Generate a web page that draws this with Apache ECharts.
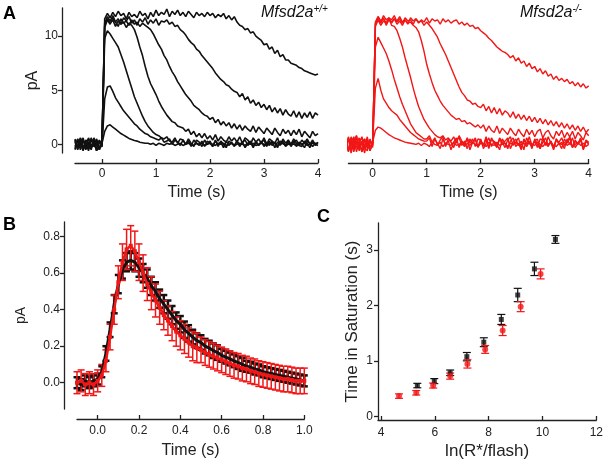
<!DOCTYPE html>
<html><head><meta charset="utf-8">
<script src="https://cdn.jsdelivr.net/npm/echarts@6/dist/echarts.min.js"></script>
<style>html,body{margin:0;padding:0;background:#fff}#c{width:606px;height:462px}</style>
</head><body><div id="c"></div>
<script>
// ---- Panel A: time base (s)
var tA = [
-0.5,-0.45,-0.4,-0.35,-0.3,-0.25,-0.2,-0.15,-0.1,-0.05,
0,0.05,0.1,0.15,0.2,0.25,0.3,0.35,0.4,0.45,
0.5,0.55,0.6,0.65,0.7,0.75,0.8,0.85,0.9,0.95,
1,1.05,1.1,1.15,1.2,1.25,1.3,1.35,1.4,1.45,
1.5,1.55,1.6,1.65,1.7,1.75,1.8,1.85,1.9,1.95,
2,2.05,2.1,2.15,2.2,2.25,2.3,2.35,2.4,2.45,
2.5,2.55,2.6,2.65,2.7,2.75,2.8,2.85,2.9,2.95,
3,3.05,3.1,3.15,3.2,3.25,3.3,3.35,3.4,3.45,
3.5,3.55,3.6,3.65,3.7,3.75,3.8,3.85,3.9,3.95,
4];
// ---- Panel A left (Mfsd2a+/+), pA
var blk1 = [
0.4,-0.5,0.6,-0.3,0.2,-0.6,0.5,-0.2,0.3,-0.5,
0.1,1.2,1.7,1.8,1.6,1.4,1.2,1.0,0.85,0.7,
0.55,0.45,0.35,0.3,0.2,0.15,0.1,0.1,0.0,0.1,
-0.1,0.1,0.0,-0.1,0.1,0.0,0.1,-0.1,0.0,0.1,
-0.1,0.0,0.1,0.0,-0.1,0.1,0.0,0.1,-0.1,0.0,
0.1,0.0,-0.1,0.1,0.0,0.1,-0.1,0.0,0.1,-0.1,
0.0,0.1,0.0,-0.1,0.1,0.0,0.1,-0.1,0.0,0.1,
0.0,-0.1,0.1,0.0,0.1,-0.1,0.0,0.1,-0.1,0.0,
0.1,0.0,-0.1,0.1,0.0,0.1,-0.1,0.0,0.1,0.0,
-0.1];
var blk2 = [
-0.4,0.5,-0.2,0.6,-0.5,0.2,-0.3,0.5,-0.6,0.3,
-0.1,4.2,5.3,5.4,4.9,4.3,3.9,3.5,3.1,2.8,
2.5,2.2,1.9,1.7,1.4,1.2,1.0,0.9,0.7,0.6,
0.5,0.4,0.6,0.2,0.3,0.5,0.0,0.4,0.2,-0.1,
0.4,0.0,0.3,-0.2,0.4,0.1,-0.1,0.3,-0.2,0.3,
0.1,-0.2,0.3,0.0,0.2,-0.3,0.3,-0.1,0.2,-0.2,
0.3,-0.1,0.2,-0.3,0.1,0.3,-0.2,0.2,-0.1,0.3,
-0.2,0.2,-0.1,0.3,-0.3,0.2,0.0,0.3,-0.2,0.1,
-0.1,0.3,-0.2,0.2,0.0,-0.3,0.3,0.1,-0.2,0.1,
0.1];
var blk3 = [
0.5,-0.3,0.2,-0.6,0.4,0.0,-0.5,0.6,-0.2,0.4,
-0.2,9.8,10.5,10.2,9.8,9.4,9.0,8.3,7.6,6.8,
6.0,5.2,4.4,3.8,3.2,2.6,2.1,1.7,1.4,1.1,
0.9,0.8,0.6,0.5,0.7,0.3,0.2,0.6,0.1,0.5,
0.4,0.0,0.5,0.1,-0.2,0.4,0.2,-0.2,0.4,0.0,
0.3,-0.2,0.4,-0.2,0.3,0.0,-0.3,0.3,0.1,-0.1,
0.3,-0.2,0.2,0.4,-0.1,0.2,-0.3,0.3,-0.1,0.2,
0.4,-0.2,0.3,-0.1,0.2,-0.3,0.3,0.1,-0.1,0.3,
-0.2,0.2,0.4,-0.1,-0.2,0.3,0.1,-0.3,0.3,0.0,
0.1];
var blk4 = [
-0.2,0.5,-0.5,0.3,0.0,-0.4,0.6,-0.2,0.2,-0.5,
0.2,11.0,11.6,11.2,11.5,10.9,11.4,11.1,11.3,10.8,
11.2,11.0,10.6,9.9,9.0,8.2,7.2,6.3,5.6,5.1,
4.6,4.0,3.5,3.1,2.7,2.4,2.1,2.0,1.7,1.6,
1.5,1.2,1.4,0.9,1.2,0.7,1.0,0.6,1.0,0.5,
0.8,0.4,0.9,0.3,0.7,0.4,0.2,0.7,0.3,0.6,
0.2,0.7,0.1,0.6,0.4,0.0,0.6,0.2,0.5,0.1,
0.6,0.0,0.5,0.3,0.1,0.6,-0.1,0.5,0.1,0.4,
0.0,0.5,0.1,-0.1,0.4,0.1,0.5,0.0,0.4,-0.1,
0.2];
var blk5 = [
0.2,-0.4,0.6,-0.5,0.2,0.5,-0.3,0.0,0.5,-0.2,
-0.2,10.8,11.5,11.1,11.7,11.3,10.9,11.6,11.2,11.4,
11.0,11.5,11.1,11.3,10.9,11.2,11.0,10.8,10.6,10.2,
9.7,9.2,8.8,8.2,7.8,7.2,6.7,6.3,5.8,5.4,
5.0,4.6,4.3,4.0,3.6,3.4,3.2,2.9,2.7,2.6,
2.3,2.5,2.0,2.3,1.8,2.1,1.7,2.0,1.5,1.9,
1.4,1.8,1.3,1.7,1.4,1.2,1.7,1.1,1.6,1.3,
1.0,1.5,1.2,0.9,1.5,1.1,0.8,1.4,1.0,1.3,
0.8,1.3,0.9,1.4,0.7,1.2,0.9,0.6,1.2,0.8,
1.0];
var blk6 = [
-0.5,0.3,0.0,0.5,-0.4,0.6,-0.2,0.3,-0.6,0.2,
0.3,11.2,11.8,11.4,11.9,11.3,11.6,11.1,11.7,11.4,
11.8,11.2,11.5,11.0,11.6,11.3,11.7,11.1,11.5,11.2,
11.6,11.0,11.4,11.3,11.5,11.1,11.3,10.9,11.0,10.6,
10.4,10.1,9.7,9.4,9.2,8.8,8.6,8.2,7.9,7.6,
7.3,7.0,6.6,6.3,6.0,5.8,5.5,5.4,5.1,4.9,
4.8,4.4,4.7,4.1,4.4,3.8,4.1,3.6,3.9,3.4,
3.7,3.2,3.6,3.0,3.4,2.9,3.3,2.7,3.2,2.8,
2.6,3.1,2.5,3.0,2.4,2.9,2.5,3.0,2.4,2.9,
2.7];
var blk7 = [
0.3,-0.2,0.5,-0.5,0.2,-0.4,0.5,0.0,-0.5,0.3,
0.0,11.6,12.1,11.7,12.2,11.8,12.3,11.9,12.1,11.6,
12.2,11.8,12.0,11.7,12.3,11.9,12.1,11.6,12.2,11.8,
12.4,11.9,12.2,12.0,12.5,11.8,12.3,12.0,12.4,11.9,
12.2,11.8,12.3,12.0,11.7,12.2,11.9,12.1,11.8,12.2,
11.9,12.1,11.7,12.0,11.8,12.1,11.6,11.9,11.5,11.8,
11.3,11.0,10.9,10.6,10.7,10.3,10.4,10.0,9.8,9.6,
9.2,9.3,8.8,9.0,8.4,8.7,8.1,8.3,7.8,7.8,
7.5,7.4,7.3,7.1,7.0,6.8,6.7,6.6,6.5,6.4,
6.5];
// ---- Panel A right (Mfsd2a-/-), pA
var red1 = [
0.6,-0.7,0.3,-0.5,0.8,-0.3,0.2,-0.8,0.5,-0.2,
0.2,1.3,1.6,1.5,1.3,1.1,0.9,0.75,0.6,0.5,
0.4,0.3,0.2,0.15,0.1,0.05,0.0,0.1,-0.1,0.1,
0.0,-0.2,0.2,0.0,-0.1,0.2,-0.2,0.1,0.0,-0.1,
0.2,-0.1,0.0,0.2,-0.2,0.1,-0.1,0.2,0.0,-0.2,
0.1,0.0,-0.2,0.2,0.0,-0.1,0.2,-0.1,0.0,0.1,
-0.2,0.1,0.0,0.2,-0.1,0.0,0.1,-0.2,0.2,0.0,
-0.1,0.2,0.0,-0.2,0.1,0.0,0.2,-0.1,-0.2,0.1,
0.0,0.2,-0.1,0.1,-0.2,0.0,0.2,-0.1,0.1,-0.2,
0.0];
var red2 = [
-0.5,0.7,-0.2,0.5,-0.7,0.3,0.6,-0.4,0.2,-0.6,
0.3,5.2,6.1,5.0,4.2,3.8,3.4,3.1,2.9,2.7,
2.3,2.0,1.7,1.4,1.1,0.9,0.7,0.5,0.4,0.3,
0.3,0.6,-0.2,0.5,0.1,-0.4,0.5,0.0,0.3,-0.5,
0.2,0.6,-0.3,0.3,0.0,0.5,-0.5,0.2,0.4,-0.2,
0.5,-0.4,0.1,0.6,-0.2,0.3,0.0,-0.5,0.5,0.1,
-0.4,0.3,0.6,-0.2,0.1,-0.5,0.5,0.0,0.3,-0.4,
0.5,0.0,-0.4,0.6,0.1,-0.2,0.3,-0.5,0.5,0.0,
0.2,-0.4,0.5,0.0,0.6,-0.3,0.1,0.4,-0.5,0.3,
0.0];
var red3 = [
0.3,-0.6,0.7,-0.3,0.0,0.6,-0.7,0.5,-0.2,0.4,
-0.3,9.0,9.9,9.4,8.9,8.4,7.7,6.9,6.0,5.2,
4.4,3.7,3.1,2.5,1.9,1.5,1.1,0.9,0.7,0.5,
0.5,0.8,0.2,0.6,-0.1,0.4,0.7,-0.2,0.5,0.2,
-0.3,0.5,0.6,-0.1,0.3,-0.4,0.5,0.1,0.6,-0.3,
0.3,-0.1,0.5,-0.4,0.6,0.1,-0.3,0.5,0.0,0.3,
0.6,-0.4,0.2,0.5,-0.1,0.3,-0.5,0.6,0.1,-0.2,
0.3,0.5,-0.4,0.2,0.6,-0.1,0.3,-0.3,0.5,0.1,
-0.4,0.5,0.1,0.6,-0.3,0.3,0.0,0.5,-0.4,0.3,
0.1];
var red4 = [
-0.3,0.5,-0.8,0.2,0.6,-0.5,0.3,-0.2,0.7,-0.6,
0.1,10.9,11.5,11.0,11.4,11.2,11.6,11.0,10.9,10.5,
9.8,9.0,8.0,7.1,6.2,5.2,4.3,3.5,2.9,2.3,
1.9,1.5,1.2,0.9,0.7,0.6,0.8,0.4,0.6,0.3,
0.7,0.1,0.8,0.3,-0.1,0.6,0.1,0.5,-0.2,0.5,
0.4,-0.1,0.7,-0.3,0.5,0.2,-0.2,0.6,0.2,-0.3,
0.4,0.7,-0.1,0.2,0.6,-0.4,0.4,0.0,0.7,-0.1,
0.3,-0.3,0.5,0.4,-0.1,0.7,0.1,-0.4,0.4,0.2,
0.6,-0.1,0.2,0.7,-0.3,0.4,0.0,0.6,-0.4,0.4,
0.2];
var red5 = [
0.5,-0.6,0.2,0.7,-0.3,0.1,-0.7,0.4,0.3,-0.5,
0.0,11.1,11.6,11.2,11.7,11.0,11.5,11.3,11.6,11.1,
11.4,11.0,11.5,11.2,11.3,11.0,10.8,10.4,9.6,8.6,
7.4,6.5,5.7,5.0,4.5,4.0,3.6,3.3,3.0,2.7,
2.5,2.3,2.4,2.1,2.2,1.9,2.0,1.8,1.6,1.8,
1.5,1.8,1.2,1.7,1.3,1.1,1.7,1.0,1.5,1.2,
0.9,1.5,1.1,0.8,1.4,1.0,0.7,1.4,0.9,1.3,
0.7,1.2,1.4,0.6,1.1,1.3,0.8,0.5,1.2,0.8,
1.3,0.6,1.1,0.7,1.2,0.5,1.1,0.8,0.4,1.1,
0.8];
var red6 = [
-0.2,0.6,-0.5,0.3,0.8,-0.6,0.2,0.5,-0.4,0.1,
0.2,11.3,11.8,11.4,11.6,11.2,11.7,11.5,11.9,11.3,
11.6,11.2,11.7,11.4,11.5,11.1,11.6,11.3,11.4,11.0,
11.3,11.0,10.7,10.3,9.9,9.3,8.8,8.3,7.7,7.1,
6.5,5.9,5.3,4.8,4.5,4.1,4.0,3.7,3.8,3.5,
3.4,3.7,3.1,3.5,2.9,3.4,2.8,3.3,2.7,3.1,
2.9,2.5,3.0,2.4,2.8,2.3,2.7,2.2,2.6,2.1,
2.5,2.0,2.4,1.9,2.3,1.8,2.2,1.7,2.1,1.6,
2.0,1.5,1.9,1.4,1.8,1.3,1.7,1.2,1.6,1.1,
1.4];
var red7 = [
0.2,-0.5,0.6,-0.7,0.3,0.0,0.7,-0.3,-0.6,0.5,
-0.1,11.2,11.8,11.3,11.9,11.5,11.7,11.2,11.6,11.4,
11.8,11.3,11.5,11.1,11.7,11.4,11.6,11.2,11.5,11.3,
11.7,11.2,11.6,11.4,11.5,11.1,11.6,11.3,11.5,11.2,
11.4,11.5,11.1,11.3,11.0,11.2,10.9,11.0,10.7,10.8,
10.5,10.3,10.1,9.8,9.6,9.3,9.0,8.8,8.6,8.5,
8.3,8.0,8.2,7.7,8.0,7.5,7.7,7.2,7.5,7.0,
7.2,6.7,7.0,6.5,6.8,6.3,6.5,6.0,6.3,5.9,
6.1,5.8,6.0,5.6,5.8,5.4,5.7,5.3,5.6,5.2,
5.4];
// ---- Panel B: mean dim-flash responses (pA) with SEM
var tB = [
-0.1,-0.08,-0.06,-0.04,-0.02,0,0.02,0.04,0.06,0.08,
0.1,0.12,0.14,0.16,0.18,0.2,0.22,0.24,0.26,0.28,
0.3,0.32,0.34,0.36,0.38,0.4,0.42,0.44,0.46,0.48,
0.5,0.52,0.54,0.56,0.58,0.6,0.62,0.64,0.66,0.68,
0.7,0.72,0.74,0.76,0.78,0.8,0.82,0.84,0.86,0.88,
0.9,0.92,0.94,0.96,0.98,1];
var bMeanK = [
0.00,-0.01,0.01,0.00,0.01,0.02,0.06,0.16,0.29,0.43,
0.54,0.62,0.66,0.67,0.66,0.63,0.60,0.57,0.53,0.50,
0.46,0.43,0.40,0.37,0.34,0.32,0.29,0.27,0.25,0.23,
0.22,0.20,0.19,0.175,0.165,0.15,0.14,0.13,0.12,0.11,
0.10,0.09,0.085,0.075,0.07,0.06,0.055,0.05,0.045,0.04,
0.035,0.03,0.025,0.02,0.015,0.01];
var bErrK = [
0.03,0.03,0.03,0.03,0.03,0.03,0.03,0.04,0.04,0.05,
0.05,0.05,0.05,0.05,0.05,0.05,0.05,0.05,0.05,0.05,
0.05,0.05,0.05,0.05,0.045,0.045,0.045,0.045,0.04,0.04,
0.04,0.04,0.04,0.04,0.04,0.035,0.035,0.035,0.035,0.035,
0.035,0.03,0.03,0.03,0.03,0.03,0.03,0.03,0.03,0.03,
0.03,0.03,0.03,0.03,0.03,0.03];
var bMeanR = [
0.00,0.01,-0.01,0.00,-0.01,0.01,0.04,0.12,0.25,0.40,
0.55,0.66,0.73,0.75,0.72,0.66,0.60,0.54,0.49,0.45,
0.41,0.37,0.34,0.31,0.28,0.26,0.24,0.22,0.20,0.19,
0.18,0.165,0.155,0.145,0.135,0.125,0.115,0.105,0.095,0.09,
0.08,0.075,0.065,0.06,0.05,0.045,0.04,0.035,0.03,0.025,
0.02,0.02,0.015,0.01,0.01,0.01];
var bErrR = [
0.06,0.06,0.06,0.06,0.06,0.06,0.06,0.06,0.07,0.08,
0.09,0.10,0.11,0.11,0.11,0.10,0.10,0.09,0.09,0.09,
0.09,0.08,0.08,0.08,0.08,0.08,0.08,0.08,0.08,0.08,
0.07,0.07,0.07,0.07,0.07,0.07,0.07,0.07,0.07,0.07,
0.07,0.07,0.07,0.07,0.07,0.07,0.07,0.07,0.07,0.07,
0.07,0.07,0.07,0.07,0.07,0.07];
// ---- Panel C: time in saturation vs ln(R*/flash)
var cXK = [5.35,5.98,6.57,7.19,7.82,8.47,9.08,9.70,10.48];
var cYK = [0.56,0.64,0.79,1.08,1.34,1.75,2.19,2.66,3.19];
var cEK = [0.04,0.045,0.05,0.075,0.08,0.09,0.12,0.12,0.07];
var cXR = [4.67,5.31,5.94,6.57,7.21,7.87,8.52,9.19,9.93];
var cYR = [0.37,0.43,0.56,0.73,0.95,1.21,1.55,1.98,2.57];
var cER = [0.04,0.04,0.045,0.055,0.075,0.07,0.09,0.09,0.09];

var FONT = '"Liberation Sans", Arial, Helvetica, sans-serif';
var AX = '#222';
var BLACK = '#111';
var RED = '#f21616';

function zip2(a, b) { var o = []; for (var i = 0; i < Math.min(a.length, b.length); i++) o.push([a[i], b[i]]); return o; }
function zip3(a, b, c) { var o = []; for (var i = 0; i < Math.min(a.length, b.length, c.length); i++) o.push([a[i], b[i], c[i]]); return o; }
function errBar(color, cap, lw) {
  return function (params, api) {
    var x = api.value(0), y = api.value(1), e = api.value(2);
    var p1 = api.coord([x, y + e]), p2 = api.coord([x, y - e]);
    var s = { stroke: color, lineWidth: lw };
    return { type: 'group', children: [
      { type: 'line', shape: { x1: p1[0], y1: p1[1], x2: p2[0], y2: p2[1] }, style: s },
      { type: 'line', shape: { x1: p1[0] - cap, y1: p1[1], x2: p1[0] + cap, y2: p1[1] }, style: s },
      { type: 'line', shape: { x1: p2[0] - cap, y1: p2[1], x2: p2[0] + cap, y2: p2[1] }, style: s }
    ]};
  };
}
function xAx(grid, min, max, ticks, opts) {
  var a = {
    type: 'value', gridIndex: grid, min: min, max: max,
    axisLine: { show: true, onZero: false, lineStyle: { color: AX, width: 1.3 } },
    axisTick: { show: true, inside: true, length: 4, customValues: ticks, lineStyle: { color: AX, width: 1.3 } },
    axisLabel: { customValues: ticks, color: AX, fontSize: 12, fontFamily: FONT, margin: 5 },
    splitLine: { show: false },
    nameLocation: 'middle', nameTextStyle: { color: AX, fontSize: 16, fontFamily: FONT }
  };
  for (var k in opts) a[k] = opts[k];
  return a;
}
function yAx(grid, min, max, ticks, opts) {
  var a = {
    type: 'value', gridIndex: grid, min: min, max: max,
    axisLine: { show: true, onZero: false, lineStyle: { color: AX, width: 1.3 } },
    axisTick: { show: true, inside: false, length: 4, customValues: ticks, lineStyle: { color: AX, width: 1.3 } },
    axisLabel: { customValues: ticks, color: AX, fontSize: 12, fontFamily: FONT, margin: 4 },
    splitLine: { show: false },
    nameLocation: 'middle', nameTextStyle: { color: AX, fontSize: 16, fontFamily: FONT }
  };
  for (var k in opts) a[k] = opts[k];
  return a;
}
var f1 = function (v) { return v.toFixed(1); };

var series = [];
[blk1, blk2, blk3, blk4, blk5, blk6, blk7].forEach(function (arr) {
  series.push({ type: 'line', xAxisIndex: 0, yAxisIndex: 0, data: zip2(tA, arr), showSymbol: false, silent: true,
    lineStyle: { color: BLACK, width: 1.6 }, itemStyle: { color: BLACK } });
});
[red1, red2, red3, red4, red5, red6, red7].forEach(function (arr) {
  series.push({ type: 'line', xAxisIndex: 1, yAxisIndex: 1, data: zip2(tA, arr), showSymbol: false, silent: true,
    lineStyle: { color: RED, width: 1.4 }, itemStyle: { color: RED } });
});
// Panel B
series.push({ type: 'custom', xAxisIndex: 2, yAxisIndex: 2, data: zip3(tB, bMeanK, bErrK), renderItem: errBar(BLACK, 3.5, 2.5), encode: { x: 0, y: 1 }, silent: true });
series.push({ type: 'line', xAxisIndex: 2, yAxisIndex: 2, data: zip2(tB, bMeanK), showSymbol: false, silent: true, lineStyle: { color: BLACK, width: 3 } });
series.push({ type: 'custom', xAxisIndex: 2, yAxisIndex: 2, data: zip3(tB, bMeanR, bErrR), renderItem: errBar(RED, 3.5, 1.5), encode: { x: 0, y: 1 }, silent: true });
series.push({ type: 'line', xAxisIndex: 2, yAxisIndex: 2, data: zip2(tB, bMeanR), symbol: 'rect', symbolSize: 4, showSymbol: true, silent: true, lineStyle: { color: RED, width: 2.5 }, itemStyle: { color: RED } });
// Panel C
series.push({ type: 'custom', xAxisIndex: 3, yAxisIndex: 3, data: zip3(cXK, cYK, cEK), renderItem: errBar(BLACK, 4, 1.2), encode: { x: 0, y: 1 }, silent: true });
series.push({ type: 'scatter', xAxisIndex: 3, yAxisIndex: 3, data: zip2(cXK, cYK), symbol: 'rect', symbolSize: 5, itemStyle: { color: BLACK }, silent: true });
series.push({ type: 'custom', xAxisIndex: 3, yAxisIndex: 3, data: zip3(cXR, cYR, cER), renderItem: errBar(RED, 4, 1.2), encode: { x: 0, y: 1 }, silent: true });
series.push({ type: 'scatter', xAxisIndex: 3, yAxisIndex: 3, data: zip2(cXR, cYR), symbol: 'circle', symbolSize: 6, itemStyle: { color: RED }, silent: true });

var option = {
  animation: false,
  textStyle: { fontFamily: FONT },
  grid: [
    { left: 75, top: 8, width: 243, height: 145 },
    { left: 348.4, top: 8, width: 240.3, height: 145 },
    { left: 77, top: 222, width: 227.3, height: 187 },
    { left: 378, top: 223, width: 219.3, height: 197 }
  ],
  xAxis: [
    xAx(0, -0.5, 4, [0, 1, 2, 3, 4], { offset: 10, name: 'Time (s)', nameGap: 22 }),
    xAx(1, -0.45, 4, [0, 1, 2, 3, 4], { offset: 10, name: 'Time (s)', nameGap: 22 }),
    (function () { var a = xAx(2, -0.1, 1.0, [0, 0.2, 0.4, 0.6, 0.8, 1.0], { offset: 10, name: 'Time (s)', nameGap: 24 }); a.axisLabel.formatter = f1; a.axisLabel.margin = 6; return a; })(),
    (function () { var a = xAx(3, 3.889, 12, [4, 6, 8, 10, 12], { name: 'ln(R*/flash)', nameGap: 23 }); a.nameTextStyle.fontSize = 17; a.axisLabel.margin = 7; return a; })()
  ],
  yAxis: [
    yAx(0, -0.8, 12.6, [0, 5, 10], { offset: 13, name: 'pA', nameGap: 20 }),
    { type: 'value', gridIndex: 1, min: -0.8, max: 12.6, show: false },
    (function () { var a = yAx(2, -0.144, 0.88, [0, 0.2, 0.4, 0.6, 0.8], { offset: 13, name: 'pA', nameGap: 36 }); a.axisLabel.formatter = f1; a.nameTextStyle.fontSize = 14; return a; })(),
    (function () { var a = yAx(3, -0.06, 3.486, [0, 1, 2, 3], { name: 'Time in Saturation (s)', nameGap: 17 }); a.nameTextStyle.fontSize = 17; a.axisLabel.margin = 5; return a; })()
  ],
  series: series,
  graphic: [
    { type: 'text', left: 3, top: 5, style: { text: 'A', font: 'bold 18px ' + FONT, fill: '#000' } },
    { type: 'text', left: 3, top: 216, style: { text: 'B', font: 'bold 18px ' + FONT, fill: '#000' } },
    { type: 'text', left: 317, top: 208, style: { text: 'C', font: 'bold 18px ' + FONT, fill: '#000' } },
    { type: 'text', left: 261, top: 4, style: { text: '{a|Mfsd2a}{b|+/+}', fill: '#111',
        rich: { a: { fontSize: 16, fontStyle: 'italic', fontFamily: FONT, lineHeight: 18, fill: '#111' },
                b: { fontSize: 10, fontStyle: 'italic', fontFamily: FONT, lineHeight: 18, verticalAlign: 'top', fill: '#111' } } } },
    { type: 'text', left: 520, top: 4, style: { text: '{a|Mfsd2a}{b|-/-}', fill: '#111',
        rich: { a: { fontSize: 16, fontStyle: 'italic', fontFamily: FONT, lineHeight: 18, fill: '#111' },
                b: { fontSize: 10, fontStyle: 'italic', fontFamily: FONT, lineHeight: 18, verticalAlign: 'top', fill: '#111' } } } }
  ]
};
var chart = echarts.init(document.getElementById('c'), null, { renderer: 'canvas' });
chart.setOption(option);
</script>
</body></html>
